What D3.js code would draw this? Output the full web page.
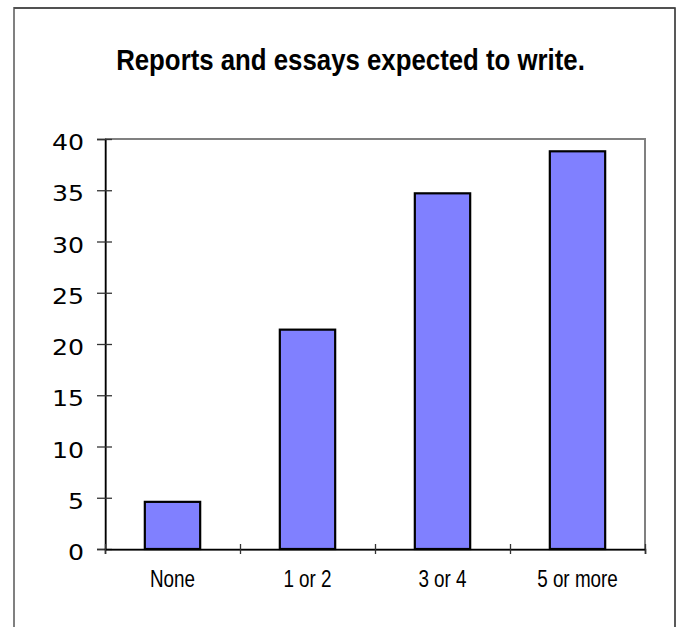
<!DOCTYPE html>
<html>
<head>
<meta charset="utf-8">
<script src="https://cdn.jsdelivr.net/npm/d3@7"></script>
<style>
  html, body { margin: 0; padding: 0; background: #fff; }
  svg { display: block; }
</style>
</head>
<body>
<svg id="chart" width="679" height="627"></svg>
<script>
const title = "Reports and essays expected to write.";
const categories = ["None", "1 or 2", "3 or 4", "5 or more"];
const values = [4.6, 21.4, 34.7, 38.8];
const yTicks = [0, 5, 10, 15, 20, 25, 30, 35, 40];

const svg = d3.select("#chart");
const plot = { left: 105, right: 645, top: 139, bottom: 549 };

// outer frame
svg.append("rect")
  .attr("x", 14).attr("y", 8).attr("width", 661).attr("height", 700)
  .attr("fill", "#fff").attr("stroke", "#808080").attr("stroke-width", 2);
svg.append("line").attr("x1", 14).attr("x2", 675).attr("y1", 8).attr("y2", 8)
  .attr("stroke", "#222").attr("stroke-width", 1);
svg.append("line").attr("x1", 675).attr("x2", 675).attr("y1", 8).attr("y2", 627)
  .attr("stroke", "#333").attr("stroke-width", 1);

// title
svg.append("g")
  .attr("transform", "translate(350.5,70) scale(0.86,1)")
  .append("text")
  .attr("text-anchor", "middle")
  .attr("font-family", "'Liberation Sans', Arial, sans-serif")
  .attr("font-weight", "bold")
  .attr("font-size", 30)
  .attr("fill", "#000")
  .text(title);

const x = d3.scaleBand()
  .domain(categories)
  .range([plot.left, plot.right])
  .paddingInner(0.59)
  .paddingOuter(0.295);

const xEdges = d3.scaleLinear()
  .domain([0, categories.length])
  .range([plot.left, plot.right]);

const y = d3.scaleLinear()
  .domain([0, 40])
  .range([plot.bottom, plot.top]);

// plot area frame (gray)
svg.append("rect")
  .attr("x", plot.left + 1).attr("y", plot.top)
  .attr("width", plot.right - plot.left - 1).attr("height", plot.bottom - plot.top + 1)
  .attr("fill", "none").attr("stroke", "#808080").attr("stroke-width", 2);

// bars
svg.append("g").selectAll("rect")
  .data(values)
  .join("rect")
  .attr("x", (d, i) => x(categories[i]))
  .attr("y", d => y(d))
  .attr("width", x.bandwidth())
  .attr("height", d => y(0) - y(d))
  .attr("fill", "#8080FF")
  .attr("stroke", "#000")
  .attr("stroke-width", 2.2);

// y axis
const yAxis = svg.append("g")
  .attr("transform", `translate(${plot.left},0)`)
  .call(d3.axisLeft(y).tickValues(yTicks).tickSize(8).tickFormat(""));
yAxis.select(".domain").attr("stroke", "#000").attr("stroke-width", 1.5);
yAxis.selectAll(".tick line").attr("x2", 7).attr("x1", -8).attr("stroke", "#333").attr("stroke-width", 1.3);

// y labels
svg.append("g").selectAll("g")
  .data(yTicks)
  .join("g")
  .attr("transform", d => `translate(84,${y(d) + 11}) scale(1.2,1)`)
  .append("text")
  .attr("text-anchor", "end")
  .attr("font-family", "'DejaVu Sans', Verdana, sans-serif")
  .attr("font-size", 21)
  .attr("fill", "#000")
  .text(d => d);

// x axis
const xAxis = svg.append("g")
  .attr("transform", `translate(0,${plot.bottom})`)
  .call(d3.axisBottom(xEdges).tickValues(d3.range(categories.length + 1)).tickSize(5).tickFormat(""));
xAxis.select(".domain").attr("stroke", "#000").attr("stroke-width", 1.5);
xAxis.selectAll(".tick line").attr("y1", -5).attr("y2", 5).attr("stroke", "#333").attr("stroke-width", 1.3);

// x labels
svg.append("g").selectAll("g")
  .data(categories)
  .join("g")
  .attr("transform", d => `translate(${x(d) + x.bandwidth() / 2},587) scale(0.82,1)`)
  .append("text")
  .attr("text-anchor", "middle")
  .attr("font-family", "'Liberation Sans', Arial, sans-serif")
  .attr("font-size", 23)
  .attr("fill", "#000")
  .text(d => d);
</script>
</body>
</html>
